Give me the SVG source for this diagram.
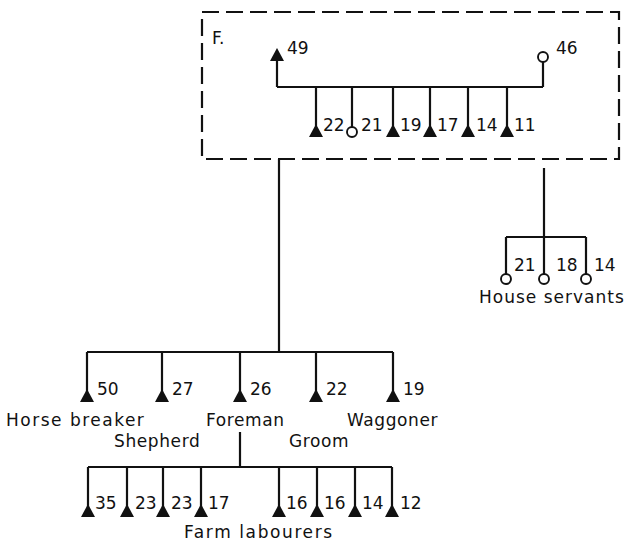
<svg xmlns="http://www.w3.org/2000/svg" width="626" height="547" viewBox="0 0 626 547">
<style>
.ln{stroke:#111;stroke-width:2.2;fill:none}
.box{stroke:#111;stroke-width:2.2;fill:none;stroke-dasharray:17 7}
.tri{fill:#111}
.cir{fill:#fff;stroke:#111;stroke-width:1.9}
text{font-family:"DejaVu Sans","Liberation Sans",sans-serif;font-size:17px;fill:#111}
.w{letter-spacing:0.6px}
</style>
<defs>
<path id="t" d="M-7 0L0 -13L7 0Z"/>
</defs>
<rect width="626" height="547" fill="#fff"/>
<g id="connectors">
<path class="ln" d="M277 87H543M277 87V58M543 87V62"/>
<path class="ln" d="M316 87V126M352 87V127M393 87V126M430 87V126M468 87V126M507 87V126"/>
<path class="ln" d="M279 159V352M87 352H393M87 352V392M162 352V392M240 352V392M316 352V392M393 352V392"/>
<path class="ln" d="M544 168V237M506 237H586M506 237V274M544 237V274M586 237V274"/>
<path class="ln" d="M240 432V467M88 467H392M88 467V507M127 467V507M163 467V507M201 467V507M279 467V507M317 467V507M355 467V507M392 467V507"/>
</g>
<g id="family">
<rect class="box" x="202" y="12" width="417" height="147"/>
<text x="212" y="44">F.</text>
</g>
<g id="p49"><use href="#t" class="tri" x="277" y="61"/><text x="287" y="54">49</text></g>
<g id="p46"><circle class="cir" cx="543" cy="57" r="5"/><text x="556" y="54">46</text></g>
<g id="c22"><use href="#t" class="tri" x="316" y="137"/><text x="323" y="131">22</text></g>
<g id="c21"><circle class="cir" cx="352" cy="132" r="5"/><text x="361" y="131">21</text></g>
<g id="c19"><use href="#t" class="tri" x="393" y="137"/><text x="400" y="131">19</text></g>
<g id="c17"><use href="#t" class="tri" x="430" y="137"/><text x="437" y="131">17</text></g>
<g id="c14"><use href="#t" class="tri" x="468" y="137"/><text x="476" y="131">14</text></g>
<g id="c11"><use href="#t" class="tri" x="507" y="137"/><text x="514" y="131">11</text></g>
<g id="hs21"><circle class="cir" cx="506" cy="279" r="5"/><text x="514" y="271">21</text></g>
<g id="hs18"><circle class="cir" cx="544" cy="279" r="5"/><text x="556" y="271">18</text></g>
<g id="hs14"><circle class="cir" cx="586" cy="279" r="5"/><text x="594" y="271">14</text></g>
<g id="house-servants"><text class="w" x="479" y="303" style="letter-spacing:1px">House servants</text></g>
<g id="s50"><use href="#t" class="tri" x="87" y="402"/><text x="97" y="395">50</text></g>
<g id="s27"><use href="#t" class="tri" x="162" y="402"/><text x="172" y="395">27</text></g>
<g id="s26"><use href="#t" class="tri" x="240" y="402"/><text x="250" y="395">26</text></g>
<g id="s22"><use href="#t" class="tri" x="316" y="402"/><text x="326" y="395">22</text></g>
<g id="s19"><use href="#t" class="tri" x="393" y="402"/><text x="403" y="395">19</text></g>
<g id="roles">
<text class="w" x="6" y="426" style="letter-spacing:1.5px">Horse breaker</text>
<text class="w" x="206" y="426">Foreman</text>
<text class="w" x="347" y="426">Waggoner</text>
<text class="w" x="114" y="447">Shepherd</text>
<text class="w" x="289" y="447">Groom</text>
</g>
<g id="l35"><use href="#t" class="tri" x="88" y="517"/><text x="95" y="509">35</text></g>
<g id="l23a"><use href="#t" class="tri" x="127" y="517"/><text x="135" y="509">23</text></g>
<g id="l23b"><use href="#t" class="tri" x="163" y="517"/><text x="171" y="509">23</text></g>
<g id="l17"><use href="#t" class="tri" x="201" y="517"/><text x="208" y="509">17</text></g>
<g id="l16a"><use href="#t" class="tri" x="279" y="517"/><text x="286" y="509">16</text></g>
<g id="l16b"><use href="#t" class="tri" x="317" y="517"/><text x="324" y="509">16</text></g>
<g id="l14"><use href="#t" class="tri" x="355" y="517"/><text x="362" y="509">14</text></g>
<g id="l12"><use href="#t" class="tri" x="392" y="517"/><text x="400" y="509">12</text></g>
<g id="farm-labourers"><text class="w" x="184" y="538" style="letter-spacing:1.6px">Farm labourers</text></g>
</svg>
